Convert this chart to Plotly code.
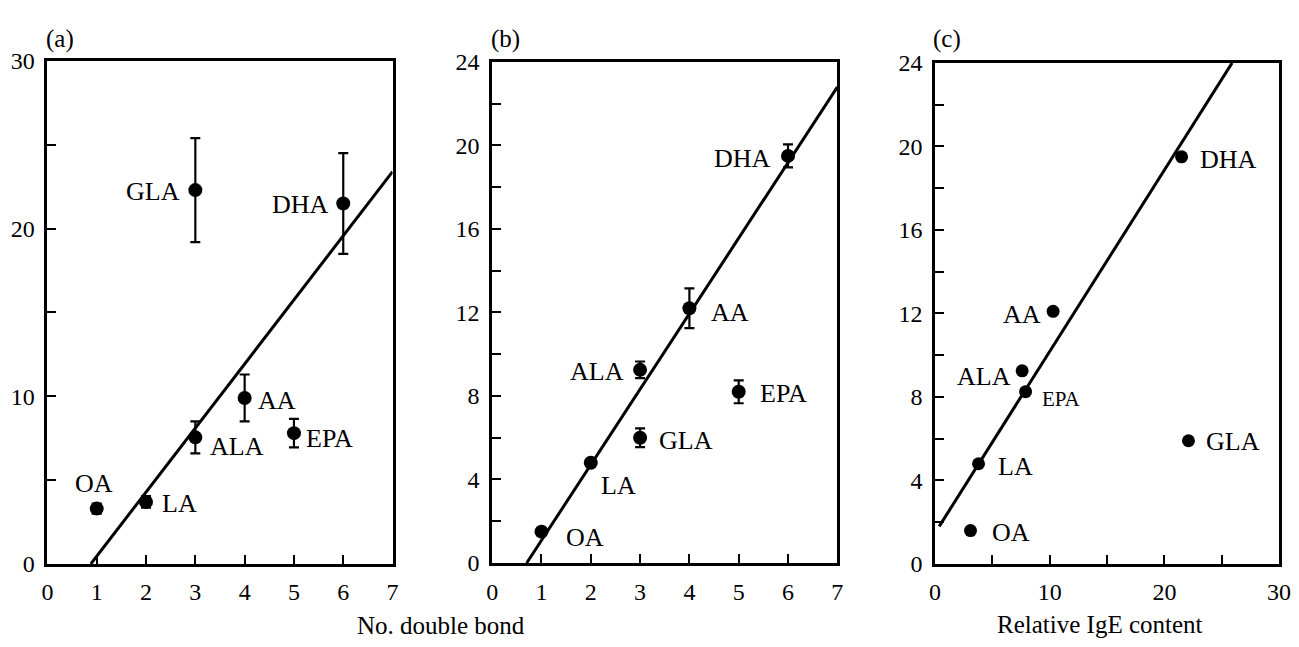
import plotly.graph_objects as go

W, H = 1299, 647
FONT = "Liberation Serif"

# ---------------- data ----------------
acids = ["OA", "LA", "GLA", "ALA", "AA", "EPA", "DHA"]
double_bonds = [1, 2, 3, 3, 4, 5, 6]

# panel (a)
a_y = [3.3, 3.7, 22.3, 7.55, 9.9, 7.8, 21.5]
a_err = [0.3, 0.35, 3.1, 0.95, 1.4, 0.85, 3.0]
a_fit_x = [0.88, 7.0]
a_fit_y = [0.0, 23.4]

# panel (b)
b_y = [1.5, 4.8, 6.0, 9.25, 12.2, 8.2, 19.5]
b_err = [0.0, 0.0, 0.45, 0.4, 0.95, 0.55, 0.55]
b_fit_x = [0.7, 7.0]
b_fit_y = [0.0, 22.8]

# panel (c)
c_x = [3.1, 3.8, 22.1, 7.6, 10.3, 7.9, 21.5]
c_y = [1.6, 4.8, 5.9, 9.25, 12.1, 8.25, 19.5]
c_fit_x = [0.37, 25.9]
c_fit_y = [1.8, 24.0]

x_title_ab = "No. double bond"
x_title_c = "Relative IgE content"
panel_tags = ["(a)", "(b)", "(c)"]

# ---------------- label placement (style) ----------------
# (xanchor, xshift, yshift, fontsize)
LF = 26
pos_a = {"OA": ("center", -3, 25, LF), "LA": ("left", 14, -2, LF),
         "GLA": ("right", -13, -1, LF), "ALA": ("left", 13, -9, LF),
         "AA": ("left", 11, -3, LF), "EPA": ("left", 10, -5, LF),
         "DHA": ("right", -12, -1, LF)}
pos_b = {"OA": ("left", 23, -6, LF), "LA": ("left", 8, -23, LF),
         "GLA": ("left", 17, -3, LF), "ALA": ("right", -14, -2, LF),
         "AA": ("left", 20, -4, LF), "EPA": ("left", 19, -2, LF),
         "DHA": ("right", -15, -3, LF)}
pos_c = {"OA": ("left", 19, -2, LF), "LA": ("left", 17, -3, LF),
         "GLA": ("left", 16, -1, LF), "ALA": ("right", -9, -6, LF),
         "AA": ("right", -10, -3, LF), "EPA": ("left", 14, -7, 21),
         "DHA": ("left", 16, -3, LF)}

# ---------------- layout geometry (pixels) ----------------
boxes = [  # left, right, top, bottom
    (42, 392, 50, 574),
    (493, 843, 51, 573),
    (942, 1291, 52, 574),
]

fig = go.Figure()

def dom(b):
    l, r, t, bt = b
    return [l / W, r / W], [1 - bt / H, 1 - t / H]

MK = dict(color="black", size=14)
ERR = dict(type="data", color="black", thickness=2.2, width=5, visible=True)

# panel a
fig.add_trace(go.Scatter(x=double_bonds, y=a_y, mode="markers", marker=MK,
                         error_y=dict(array=a_err, **ERR), xaxis="x", yaxis="y",
                         showlegend=False))
fig.add_trace(go.Scatter(x=a_fit_x, y=a_fit_y, mode="lines",
                         line=dict(color="black", width=3), xaxis="x", yaxis="y",
                         showlegend=False))
# panel b
fig.add_trace(go.Scatter(x=double_bonds, y=b_y, mode="markers", marker=MK,
                         error_y=dict(array=b_err, **ERR), xaxis="x2", yaxis="y2",
                         showlegend=False))
fig.add_trace(go.Scatter(x=b_fit_x, y=b_fit_y, mode="lines",
                         line=dict(color="black", width=3), xaxis="x2", yaxis="y2",
                         showlegend=False))
# panel c
fig.add_trace(go.Scatter(x=c_x, y=c_y, mode="markers", marker=dict(color="black", size=13),
                         xaxis="x3", yaxis="y3", showlegend=False))
fig.add_trace(go.Scatter(x=c_fit_x, y=c_fit_y, mode="lines",
                         line=dict(color="black", width=3), xaxis="x3", yaxis="y3",
                         showlegend=False))

TICKFONT = dict(family=FONT, size=24, color="black")

def axis(domain, rng, dtick, minor_dtick, anchor, standoff):
    d = dict(domain=domain, range=rng, dtick=dtick, tick0=0, anchor=anchor,
             showgrid=False, zeroline=False, showline=True, linecolor="black",
             linewidth=2.5, mirror=True, ticks="inside", ticklen=9, tickwidth=2,
             tickcolor="black", tickfont=TICKFONT, fixedrange=True,
             ticklabelstandoff=standoff)
    if minor_dtick:
        d["minor"] = dict(dtick=minor_dtick, ticks="inside", ticklen=9,
                          tickwidth=2, tickcolor="black", showgrid=False)
    return d

xd, yd = dom(boxes[0])
fig.update_layout(xaxis=axis(xd, [0, 7], 1, None, "y", 5),
                  yaxis=axis(yd, [0, 30], 10, 5, "x", 5))
xd, yd = dom(boxes[1])
fig.update_layout(xaxis2=axis(xd, [0, 7], 1, None, "y2", 5),
                  yaxis2=axis(yd, [0, 24], 4, 2, "x2", 5))
xd, yd = dom(boxes[2])
fig.update_layout(xaxis3=axis(xd, [0, 30], 10, 5, "y3", 5),
                  yaxis3=axis(yd, [0, 24], 4, 2, "x3", 5))

annots = []

def add_labels(xs, ys, pos, xref, yref):
    for name, xv, yv in zip(acids, xs, ys):
        xa, xs_, ys_, fs = pos[name]
        annots.append(dict(x=xv, y=yv, xref=xref, yref=yref, text=name,
                           showarrow=False, xanchor=xa, yanchor="middle",
                           xshift=xs_, yshift=ys_,
                           font=dict(family=FONT, size=fs, color="black")))

add_labels(double_bonds, a_y, pos_a, "x", "y")
add_labels(double_bonds, b_y, pos_b, "x2", "y2")
add_labels(c_x, c_y, pos_c, "x3", "y3")

for tag, cx in zip(panel_tags, [55, 507, 954]):
    annots.append(dict(x=cx / W, y=1 - 27 / H, xref="paper", yref="paper",
                       text=tag, showarrow=False, xanchor="center", yanchor="middle",
                       font=dict(family=FONT, size=25, color="black")))

annots.append(dict(x=441 / W, y=1 - 638 / H, xref="paper", yref="paper",
                   text=x_title_ab, showarrow=False, xanchor="center", yanchor="middle",
                   font=dict(family=FONT, size=25, color="black")))
annots.append(dict(x=1109 / W, y=1 - 637 / H, xref="paper", yref="paper",
                   text=x_title_c, showarrow=False, xanchor="center", yanchor="middle",
                   font=dict(family=FONT, size=25, color="black")))

fig.update_layout(width=W, height=H, margin=dict(l=0, r=0, t=0, b=0),
                  paper_bgcolor="white", plot_bgcolor="white",
                  annotations=annots, showlegend=False)

fig.write_html("out.html")
